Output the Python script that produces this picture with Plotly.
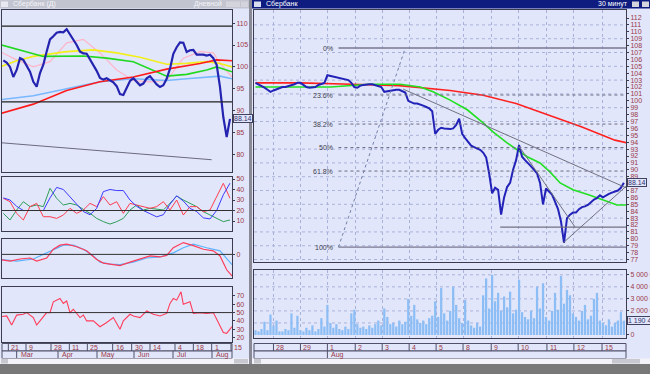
import plotly.graph_objects as go

# ======================= DATA: left window (daily) =======================
left_day_labels = ["21", "9", "28", "11", "25", "16", "30", "14", "4", "18", "1", "15"]
left_day_pos = [1.5, 6.8, 14.3, 19.8, 25.2, 32.8, 38.5, 44.0, 51.5, 57.0, 62.5, 68.3]
left_month_labels = ["Mar", "Apr", "May", "Jun", "Jul", "Aug"]
left_month_pos = [4.0, 16.4, 28.1, 39.2, 50.9, 62.6]

left_close = [101.5, 101.0, 100.0, 97.7, 99.3, 102.0, 101.6, 100.4, 98.9, 96.6,
              95.5, 98.6, 100.5, 103.5, 106.3, 107.0, 107.8, 108.0, 107.9, 108.6,
              107.5, 106.2, 105.0, 103.5, 103.1, 103.0, 101.8, 100.5, 99.1, 97.5,
              97.1, 97.4, 97.0, 96.5, 95.6, 93.8, 93.6, 95.4, 96.8, 97.4,
              96.6, 95.8, 96.2, 97.4, 97.9, 97.0, 96.0, 95.4, 95.8, 97.3,
              99.6, 103.0, 104.5, 105.6, 105.5, 103.4, 103.8, 103.9, 102.8, 102.8,
              102.8, 102.6, 102.8, 102.0, 100.5, 95.4, 88.5, 84.0, 88.14]

left_ma_red_x = [-1, 9, 19, 29, 39, 49, 59, 64, 68.6]
left_ma_red = [89.3, 91.5, 94.6, 96.6, 97.7, 99.5, 100.8, 101.6, 101.4]
left_ma_yellow_x = [-1, 4, 9, 14, 19, 27, 34, 41, 49, 55, 61, 65, 68.6]
left_ma_yellow = [100.0, 101.4, 102.4, 103.0, 103.5, 103.9, 103.2, 102.2, 100.6, 100.8, 101.2, 100.8, 100.0]
left_ma_green_x = [-1, 7, 12, 24, 31, 39, 46, 49, 55, 61, 64, 68.6]
left_ma_green = [105.1, 103.5, 102.4, 102.5, 102.0, 101.2, 98.9, 97.9, 98.3, 99.3, 100.0, 98.9]
left_ma_blue_x = [-1, 9, 19, 29, 39, 49, 55, 61, 65, 68.6]
left_ma_blue = [92.5, 93.4, 95.0, 96.6, 97.3, 96.9, 97.3, 97.7, 97.9, 97.3]
left_ma_pink_x = [-1, 4, 9, 14, 19, 24, 29, 34, 39, 44, 49, 54, 59, 63, 65, 68.6]
left_ma_pink = [103.5, 101.6, 100.0, 101.2, 105.5, 106.3, 103.2, 99.3, 96.9, 96.6, 96.9, 102.0, 103.5, 103.2, 100.8, 97.7]
left_trend_x = [-1, 62.5]
left_trend = [82.7, 78.8]
left_levels = [109.3, 92.0]

dmi_x = [0, 2, 4, 6, 8, 10, 12, 14, 16, 18, 20, 22, 24, 26, 28, 30, 32, 34,
         36, 38, 40, 42, 44, 46, 48, 50, 52, 54, 56, 58, 60, 62, 64, 66, 68]
dmi_blue = [32, 30, 24, 20, 20, 20, 20, 32, 42, 40, 33, 25, 19, 16, 22, 38, 40, 39,
            39, 30, 24, 20, 17, 14, 16, 26, 34, 29, 22, 19, 13, 12, 20, 35, 46]
dmi_red = [31.6, 28.4, 17.3, 11.0, 23.7, 26.8, 14.1, 14.1, 12.5, 15.7, 22.1, 17.3, 20.5, 26.8, 23.7, 33.2, 25.2, 28.4,
           17.3, 26.8, 25.2, 23.7, 22.1, 23.7, 28.4, 20.5, 30.0, 15.7, 23.7, 23.7, 18.9, 20.5, 33.2, 45.9, 31.6]
dmi_green = [17.3, 11.0, 20.5, 28.4, 23.7, 25.2, 23.7, 41.1, 31.6, 25.2, 26.8, 25.2, 21.1, 17.3, 12.5, 9.4, 7.1, 9.4,
             12.5, 20.5, 25.2, 20.5, 22.1, 21.1, 20.5, 26.8, 33.8, 30.0, 26.8, 23.7, 18.9, 15.7, 12.5, 9.4, 11.0]
dmi_level = 20

macd_sig_x = [-1, 4, 9, 12, 15, 18, 21, 24, 27, 29, 32, 35, 39, 43, 47, 51, 54, 57, 61, 65, 68.6]
macd_sig = [-1.0, -1.3, -0.9, 0.0, 1.0, 1.8, 1.8, 1.0, -0.3, -1.5, -1.9, -2.0, -1.5, -0.7, -0.5, 0.3, 1.3, 2.0, 1.3, 0.7, -2.0]
macd_x = [-1, 2, 5, 8, 10, 13, 15, 17, 19, 22, 25, 28, 30, 32, 35, 38, 41, 44, 47, 49, 51, 54, 57, 60, 63, 65, 67, 68.6]
macd = [-1.0, -1.3, -0.9, -0.7, -1.3, -0.7, 1.0, 1.8, 2.0, 1.5, 0.7, -1.0, -1.7, -1.9, -2.2, -1.5, -0.9, -0.3, -0.5, -0.2, 1.3, 2.3, 1.7, 1.0, 0.7, -0.3, -3.0, -4.2]

rsi_x = [-1, 1, 2.5, 4, 6, 7, 9, 10, 11, 13, 14, 15, 17, 18, 19, 20, 21, 23, 24, 25, 27, 29, 31, 33,
         35, 36, 38, 39, 41, 43, 45, 47, 49, 50, 51, 52, 53.3, 54, 56, 57, 59, 61, 63, 65, 66, 67, 68.6]
rsi = [45, 46, 35, 47, 48, 50, 44, 35, 40, 50, 50, 63, 67, 61, 64, 50, 54, 44, 47, 40, 40, 33, 38, 44,
       30, 40, 48, 46, 44, 52, 48, 46, 49, 61, 67, 65, 75, 60, 63, 49, 50, 49, 50, 35, 26, 25, 33]
rsi_level = 50

# ======================= DATA: right window (30 min) =======================
right_day_labels = ["28", "29", "1", "2", "3", "4", "5", "8", "9", "10", "11", "12", "15"]
right_day_pos = [6.0, 15.0, 24.0, 33.3, 42.3, 51.3, 60.3, 69.3, 78.7, 87.7, 97.3, 106.3, 115.7]
right_month_labels = ["Aug"]
right_month_pos = [24.0]

right_close = [102.6, 102.4, 102.2, 101.9, 101.6, 101.3, 101.5, 101.7, 101.9, 102.0,
               102.0, 102.1, 102.2, 102.4, 102.6, 102.6, 102.3, 102.0, 101.9, 101.9,
               102.0, 102.3, 102.5, 102.6, 103.7, 103.6, 103.5, 103.4, 103.3, 103.2,
               103.1, 103.0, 102.6, 102.0, 101.9, 102.2, 102.3, 102.4, 102.4, 102.4,
               102.3, 102.2, 102.0, 101.3, 101.4, 101.4, 101.5, 101.6, 101.6, 101.4,
               101.2, 100.0, 99.8, 99.6, 99.6, 99.5, 99.3, 99.1, 98.9, 98.5,
               95.2, 95.8, 96.1, 96.0, 95.9, 95.9, 96.0, 96.5, 97.4, 95.2,
               94.6, 94.0, 93.5, 93.3, 93.1, 92.9, 92.5, 91.8, 89.5, 86.6,
               87.4, 87.1, 83.5, 86.0, 87.5, 88.1, 90.0, 91.4, 93.6, 91.9,
               91.4, 91.0, 90.5, 90.0, 89.5, 88.1, 85.0, 87.3, 86.9, 86.4,
               85.4, 84.3, 82.5, 79.4, 83.0, 83.5, 83.8, 83.8, 84.3, 84.6,
               84.7, 84.9, 85.3, 85.7, 85.9, 86.3, 86.0, 86.3, 86.5, 86.7,
               86.9, 87.0, 87.4, 88.14]

right_volume_mln = [0.4, 0.3, 0.5, 1.1, 0.4, 1.7, 0.8, 1.2, 0.3, 0.3,
                    0.5, 0.4, 1.8, 0.6, 1.6, 0.4, 0.3, 0.6, 0.4, 0.8,
                    0.3, 0.5, 1.4, 0.7, 2.5, 1.0, 0.6, 0.9, 0.5, 0.4,
                    0.7, 0.5, 1.8, 2.1, 0.9, 0.6, 0.7, 0.5, 0.8, 0.6,
                    0.9, 1.2, 0.8, 2.2, 1.5, 0.9, 1.0, 0.7, 1.2, 0.9,
                    1.1, 3.0, 1.6, 2.5, 1.3, 1.0, 1.2, 0.9, 1.4, 1.6,
                    2.8, 1.5, 3.9, 1.8, 1.2, 2.0, 4.0, 2.5, 1.4, 1.0,
                    2.9, 1.2, 0.8, 0.6, 1.0, 0.7, 3.3, 4.7, 2.2, 5.0,
                    2.8, 3.5, 2.0, 3.2, 2.3, 3.6, 1.8, 2.1, 4.6, 1.9,
                    1.5, 1.3, 2.0, 1.4, 4.0, 2.2, 4.3, 1.5, 1.2, 2.0,
                    3.5, 2.1, 4.9, 2.6, 3.75, 3.3, 1.8, 1.5, 1.2, 2.0,
                    2.5, 1.3, 1.6, 3.0, 3.5, 1.2, 1.0, 0.8, 1.3, 0.7,
                    1.0, 1.2, 1.9, 1.19]
volume_ticks = [0, 2, 3, 4, 5]
volume_ticktext = ["0", "2 000 000", "3 000 000", "4 000 000", "5 000 000"]

right_ma_red_x = [0, 15, 32, 48, 65, 76, 87, 98, 109, 120, 124]
right_ma_red = [102.6, 102.6, 102.4, 102.2, 101.5, 100.8, 99.6, 97.9, 96.2, 94.3, 93.9]
right_ma_green_x = [0, 25, 38, 48.3, 55, 59.3, 65, 70.7, 76, 79.3, 84, 90.7, 95, 98.3, 101.7, 106, 111.7, 116, 120.7, 124]
right_ma_green = [102.0, 102.0, 102.4, 102.4, 102.0, 101.3, 100.1, 98.7, 96.8, 95.5, 93.9, 91.9, 91.0, 89.7, 88.1, 87.1, 86.3, 85.6, 84.9, 84.9]

fib_labels = ["0%", "23.6%", "38.2%", "50%", "61.8%", "100%"]
fib_prices = [107.65, 100.84, 96.63, 93.22, 89.82, 78.8]
fib_span = [27.7, 123.7]
fib_diag_x = [27.7, 50.0]
fib_diag_y = [78.8, 107.65]
trend_lines = [((49.3, 101.7), (123.7, 87.4)),
               ((102.7, 79.4), (123.7, 87.6)),
               ((88.0, 93.4), (106.7, 81.7))]
support_line = ((81.7, 81.7), (123.7, 81.7))
right_price_ticks = list(range(77, 113))
right_grid_levels = list(range(77, 113, 2))
last_price = 88.14
last_volume_mln = 1.19

# ======================= STYLE =======================
W, H = 650, 374
def px(x):
    return x / W
def py(y):
    return 1 - y / H

BG = "#e2e6fa"
FRAME = "#3c3c50"
TXT = "#9a3848"
FONT = dict(family="Liberation Sans, Arial, sans-serif", size=7, color=TXT)
GRID = "#a9b2da"

fig = go.Figure()

def line_tr(x, y, xa, ya, color, width=1.2, dash=None):
    fig.add_trace(go.Scatter(x=x, y=y, xaxis=xa, yaxis=ya, mode="lines",
                             line=dict(color=color, width=width, dash=dash),
                             hoverinfo="skip", showlegend=False))

# ---- left price panel ----
line_tr(left_trend_x, left_trend, "x", "y", "#6a6a80", 1)
line_tr(left_ma_pink_x, left_ma_pink, "x", "y", "#ffb4c8", 1.2)
line_tr(left_ma_blue_x, left_ma_blue, "x", "y", "#78b8ff", 1.6)
line_tr(left_ma_yellow_x, left_ma_yellow, "x", "y", "#f2ee1c", 1.6)
line_tr(left_ma_green_x, left_ma_green, "x", "y", "#20d820", 1.6)
line_tr(left_ma_red_x, left_ma_red, "x", "y", "#ff1c1c", 1.6)
line_tr(list(range(len(left_close))), left_close, "x", "y", "#2424b0", 2.2)

# ---- left DMI ----
line_tr(dmi_x, dmi_green, "x2", "y2", "#2e9e5a", 1)
line_tr(dmi_x, dmi_red, "x2", "y2", "#ff3c50", 1)
line_tr(dmi_x, dmi_blue, "x2", "y2", "#3c3cff", 1)

# ---- left MACD ----
line_tr(macd_sig_x, macd_sig, "x3", "y3", "#5cb4ff", 1.2)
line_tr(macd_x, macd, "x3", "y3", "#ff3c5a", 1.2)

# ---- left RSI ----
line_tr(rsi_x, rsi, "x4", "y4", "#ff3c5a", 1.1)

# ---- right price ----
line_tr(right_ma_red_x, right_ma_red, "x5", "y5", "#ff2020", 1.6)
line_tr(right_ma_green_x, right_ma_green, "x5", "y5", "#22e022", 1.6)
line_tr(list(range(len(right_close))), right_close, "x5", "y5", "#2222b8", 2.0)

# ---- right volume ----
fig.add_trace(go.Bar(x=list(range(len(right_volume_mln))), y=right_volume_mln,
                     xaxis="x6", yaxis="y6", marker=dict(color="#8cbdf5", line=dict(width=0)),
                     hoverinfo="skip", showlegend=False))

shapes = []
annotations = []

# horizontal grid on right panels
for g in right_grid_levels:
    shapes.append(dict(type="line", xref="x5 domain", yref="y5", x0=0, x1=1, y0=g, y1=g,
                       line=dict(color=GRID, width=1, dash="dot"), layer="below"))
for g in [1, 2, 3, 4, 5]:
    shapes.append(dict(type="line", xref="x6 domain", yref="y6", x0=0, x1=1, y0=g, y1=g,
                       line=dict(color=GRID, width=1, dash="dot"), layer="below"))

# left reference levels
for lv in left_levels:
    shapes.append(dict(type="line", xref="x domain", yref="y", x0=0, x1=1, y0=lv, y1=lv,
                       line=dict(color="#202020", width=1.2)))
shapes.append(dict(type="line", xref="x2 domain", yref="y2", x0=0, x1=1, y0=dmi_level, y1=dmi_level,
                   line=dict(color="#303030", width=1)))
shapes.append(dict(type="line", xref="x3 domain", yref="y3", x0=0, x1=1, y0=0, y1=0,
                   line=dict(color="#303030", width=1)))
shapes.append(dict(type="line", xref="x4 domain", yref="y4", x0=0, x1=1, y0=rsi_level, y1=rsi_level,
                   line=dict(color="#303030", width=1)))

# fibonacci
for lab, p in zip(fib_labels, fib_prices):
    solid = lab in ("0%", "100%")
    shapes.append(dict(type="line", xref="x5", yref="y5", x0=fib_span[0], x1=fib_span[1], y0=p, y1=p,
                       line=dict(color="#787890" if solid else "#6a6a80", width=1.4 if solid else 1,
                                 dash=None if solid else "dot")))
    annotations.append(dict(xref="x5", yref="y5", x=fib_span[0] - 1.0, y=p, text=lab, showarrow=False,
                            xanchor="right", yanchor="middle",
                            font=dict(family="Liberation Sans, Arial", size=7, color="#404050")))
shapes.append(dict(type="line", xref="x5", yref="y5", x0=fib_diag_x[0], x1=fib_diag_x[1],
                   y0=fib_diag_y[0], y1=fib_diag_y[1], line=dict(color="#7080a8", width=1, dash="dot")))
for (a, b) in trend_lines:
    shapes.append(dict(type="line", xref="x5", yref="y5", x0=a[0], y0=a[1], x1=b[0], y1=b[1],
                       line=dict(color="#707080", width=1)))
shapes.append(dict(type="line", xref="x5", yref="y5", x0=support_line[0][0], y0=support_line[0][1],
                   x1=support_line[1][0], y1=support_line[1][1], line=dict(color="#707080", width=1.4)))

# ---- date axes (boxes + labels) ----
def date_axis(xref, xl, xr, days, dpos, months, mpos):
    r1a, r1b, r2b = 343.5, 351.0, 358.5
    shapes.append(dict(type="rect", xref="paper", yref="paper", x0=px(xl), x1=px(xr), y0=py(r1b), y1=py(r1a),
                       line=dict(color="#50506a", width=1), fillcolor=BG))
    shapes.append(dict(type="rect", xref="paper", yref="paper", x0=px(xl), x1=px(xr), y0=py(r2b), y1=py(r1b),
                       line=dict(color="#50506a", width=1), fillcolor=BG))
    for t, lab in zip(dpos, days):
        shapes.append(dict(type="line", xref=xref, yref="paper", x0=t, x1=t, y0=py(r1b), y1=py(r1a),
                           line=dict(color="#50506a", width=1)))
        annotations.append(dict(xref=xref, yref="paper", x=t, y=py((r1a + r1b) / 2), text=lab,
                                showarrow=False, xanchor="left", yanchor="middle", xshift=1,
                                font=FONT))
    for t, lab in zip(mpos, months):
        shapes.append(dict(type="line", xref=xref, yref="paper", x0=t, x1=t, y0=py(r2b), y1=py(r1b),
                           line=dict(color="#50506a", width=1)))
        annotations.append(dict(xref=xref, yref="paper", x=t, y=py((r1b + r2b) / 2), text=lab,
                                showarrow=False, xanchor="left", yanchor="middle", xshift=2,
                                font=FONT))

date_axis("x4", 2, 232, left_day_labels, left_day_pos, left_month_labels, left_month_pos)
date_axis("x6", 254, 626, right_day_labels, right_day_pos, right_month_labels, right_month_pos)

# ---- window chrome ----
chrome = [
    (0, 249, 358.5, 364, "#f2f2f8"),
    (252, 650, 358.5, 364, "#f2f2f8"),
    (0, 650, 364, 374, "#787878"),
    (249, 252, 0, 364, "#8a8a96"),
    (0, 249, 0, 8.5, "#c2c4d0"),
    (252, 650, 0, 8.5, "#0e1c80"),
    (1, 8, 1.5, 7, "#e8e8f0"),
    (254, 261, 1.5, 7, "#d8dcf0"),
    (226, 233, 1.5, 7, "#d4d4dc"),
    (233, 240, 1.5, 7, "#d4d4dc"),
    (241, 248, 1.5, 7, "#d4d4dc"),
    (632, 639, 1.5, 7, "#d4d4dc"),
    (642, 649, 1.5, 7, "#d4d4dc"),
    (1, 8, 359, 363.5, "#c8c8d0"),
    (234, 248, 359, 363.5, "#c8c8d0"),
    (254, 261, 359, 363.5, "#c8c8d0"),
    (612, 640, 359, 363.5, "#c8c8d0"),
]
for x0, x1, y0, y1, c in chrome:
    shapes.append(dict(type="rect", xref="paper", yref="paper", x0=px(x0), x1=px(x1), y0=py(y1), y1=py(y0),
                       line=dict(width=0), fillcolor=c, layer="above"))

annotations += [
    dict(xref="paper", yref="paper", x=px(11), y=py(4.3), text="Сбербанк (Д)", showarrow=False,
         xanchor="left", yanchor="middle", font=dict(family="Liberation Sans, Arial", size=7, color="#f4f4f8")),
    dict(xref="paper", yref="paper", x=px(224), y=py(4.3), text="Дневной", showarrow=False,
         xanchor="right", yanchor="middle", font=dict(family="Liberation Sans, Arial", size=7, color="#f4f4f8")),
    dict(xref="paper", yref="paper", x=px(264), y=py(4.3), text="Сбербанк", showarrow=False,
         xanchor="left", yanchor="middle", font=dict(family="Liberation Sans, Arial", size=7, color="#ffffff")),
    dict(xref="paper", yref="paper", x=px(630), y=py(4.3), text="30 минут", showarrow=False,
         xanchor="right", yanchor="middle", font=dict(family="Liberation Sans, Arial", size=7, color="#ffffff")),
    dict(xref="paper", yref="y", x=px(233), y=last_price, text=f"{last_price:.2f}", showarrow=False,
         xanchor="left", yanchor="middle", bgcolor=BG, bordercolor="#404060", borderwidth=1, borderpad=0,
         font=dict(family="Liberation Sans, Arial", size=7, color="#303070")),
    dict(xref="paper", yref="y5", x=px(627), y=last_price, text=f"{last_price:.2f}", showarrow=False,
         xanchor="left", yanchor="middle", bgcolor=BG, bordercolor="#404060", borderwidth=1, borderpad=0,
         font=dict(family="Liberation Sans, Arial", size=7, color="#303070")),
    dict(xref="paper", yref="y6", x=px(627), y=last_volume_mln, text="1 190 400", showarrow=False,
         xanchor="left", yanchor="middle", bgcolor=BG, bordercolor="#404060", borderwidth=1, borderpad=0,
         font=dict(family="Liberation Sans, Arial", size=7, color="#303070")),
]

def xa(dom, rng, anchor, **kw):
    d = dict(domain=dom, range=rng, anchor=anchor, showticklabels=False, ticks="", showgrid=False,
             zeroline=False, showline=True, mirror=True, linecolor=FRAME, linewidth=1,
             automargin=False, fixedrange=True)
    d.update(kw)
    return d

def ya(dom, rng, anchor, tickvals, ticktext=None, **kw):
    d = dict(domain=dom, range=rng, anchor=anchor, side="right", tickvals=tickvals,
             ticks="outside", ticklen=2, tickcolor=FRAME, tickfont=FONT, showgrid=False,
             zeroline=False, showline=True, mirror=True, linecolor=FRAME, linewidth=1,
             automargin=False, fixedrange=True)
    if ticktext is not None:
        d["ticktext"] = ticktext
    d.update(kw)
    return d

LX = [px(2), px(232)]
RX = [px(254), px(626)]
LR = [-0.4, 68.6]
RR = [-0.5, 123.7]

fig.update_layout(
    width=W, height=H, template="none",
    margin=dict(l=0, r=0, t=0, b=0, pad=0),
    paper_bgcolor=BG, plot_bgcolor=BG, showlegend=False, bargap=0.25,
    xaxis=xa(LX, LR, "y"),
    yaxis=ya([py(172), py(10)], [76, 113], "x", [80, 85, 90, 95, 100, 105, 110]),
    xaxis2=xa(LX, LR, "y2"),
    yaxis2=ya([py(231), py(177)], [0.5, 51.9], "x2", [10, 20, 30, 40, 50]),
    xaxis3=xa(LX, LR, "y3"),
    yaxis3=ya([py(278), py(239)], [-4.6, 3.0], "x3", [0]),
    xaxis4=xa(LX, LR, "y4"),
    yaxis4=ya([py(342), py(287)], [14.6, 80.8], "x4", [20, 30, 40, 50, 60, 70]),
    xaxis5=xa(RX, RR, "y5", tickvals=right_day_pos, showgrid=True, gridcolor=GRID, griddash="dot", gridwidth=1),
    yaxis5=ya([py(262), py(10)], [76.64, 113.16], "x5", right_price_ticks),
    xaxis6=xa(RX, RR, "y6", tickvals=right_day_pos, showgrid=True, gridcolor=GRID, griddash="dot", gridwidth=1),
    yaxis6=ya([py(338), py(270)], [-0.25, 5.4], "x6", volume_ticks, volume_ticktext),
    shapes=shapes,
    annotations=annotations,
)

fig.write_html("out.html", config={"displayModeBar": False},
               post_script="document.body.style.margin='0';document.body.style.padding='0';document.body.style.overflow='hidden';")
